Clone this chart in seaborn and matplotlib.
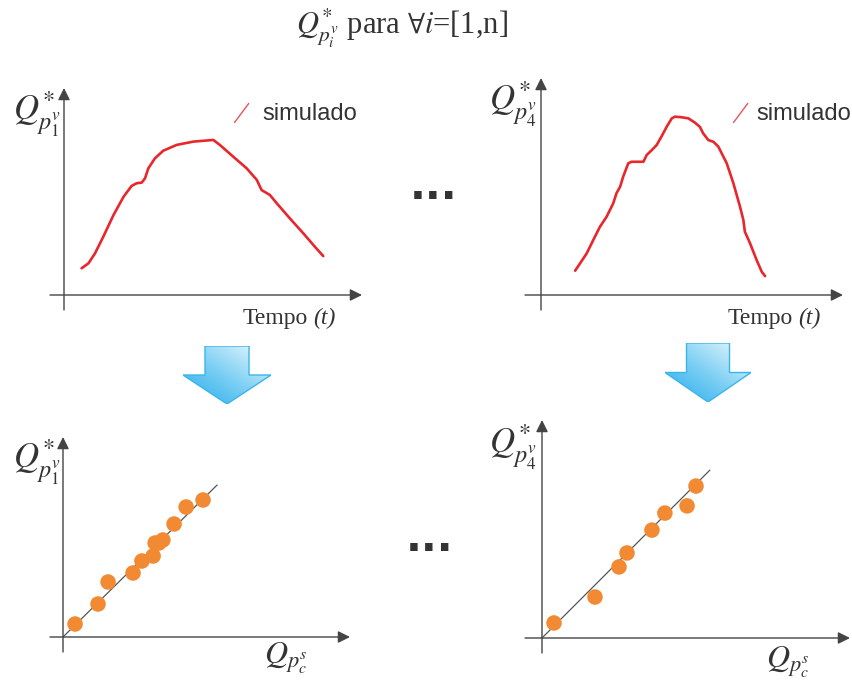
import numpy as np
import matplotlib.pyplot as plt
import seaborn as sns
from matplotlib.lines import Line2D
from matplotlib.patches import FancyArrow
from matplotlib.colors import LinearSegmentedColormap
from matplotlib.legend_handler import HandlerLine2D

sns.set_style('white')
plt.rcParams['font.family'] = ['Liberation Serif', 'DejaVu Serif']
plt.rcParams['mathtext.fontset'] = 'stix'

# --- data (arbitrary units, axes run 0..10) ---
# simulated hydrograph, point 1
t_p1 = [0.59, 0.82, 1.04, 1.32, 1.66, 2.00, 2.27, 2.44, 2.61, 2.72, 2.83, 3.05, 3.33, 3.78,
        4.34, 5.01, 5.23, 5.68, 6.13, 6.47, 6.63, 6.91, 7.14, 7.58, 8.03, 8.42, 8.70]
q_p1 = [1.29, 1.53, 2.01, 2.82, 3.86, 4.75, 5.27, 5.40, 5.43, 5.64, 6.12, 6.60, 6.97, 7.25,
        7.41, 7.49, 7.25, 6.68, 6.12, 5.56, 5.07, 4.83, 4.43, 3.70, 2.98, 2.33, 1.88]

# simulated hydrograph, point 4
t_p4 = [1.13, 1.29, 1.51, 1.73, 1.95, 2.17, 2.39, 2.50, 2.62, 2.72, 2.89, 3.00, 3.39, 3.50,
        3.67, 3.83, 4.00, 4.16, 4.33, 4.44, 4.66, 4.88, 5.10, 5.26, 5.37, 5.54, 5.71, 5.87,
        6.15, 6.37, 6.59, 6.70, 6.75, 6.92, 7.14, 7.31, 7.42]
q_p4 = [1.12, 1.45, 1.91, 2.53, 3.14, 3.60, 4.22, 4.69, 4.99, 5.45, 6.07, 6.14, 6.14, 6.45,
        6.68, 6.91, 7.33, 7.75, 8.14, 8.22, 8.19, 8.14, 7.94, 7.75, 7.45, 7.14, 7.06, 6.84,
        6.07, 5.15, 4.07, 3.46, 2.92, 2.39, 1.61, 1.07, 0.87]

# calculated vs simulated peaks
qc_p1 = [0.42, 1.22, 1.57, 2.44, 2.75, 3.14, 3.21, 3.34, 3.48, 3.87, 4.29, 4.88]
qs_p1 = [0.65, 1.65, 2.75, 3.20, 3.80, 4.05, 4.70, 4.70, 4.85, 5.65, 6.50, 6.85]
qc_p4 = [0.39, 1.72, 2.50, 2.76, 3.57, 3.99, 4.71, 5.00]
qs_p4 = [0.69, 1.88, 3.26, 3.90, 4.95, 5.73, 6.06, 6.97]

fit_p1_x = [0, 5.37]
fit_p1_y = [0, 7.60]
fit_p4_x = [0, 5.45]
fit_p4_y = [0, 7.70]

W, H = 853, 681
RED = '#E8262B'
ORANGE = '#F28A33'
AXC = '#444444'
TXT = '#333333'

fig = plt.figure(figsize=(W / 100, H / 100), dpi=100)


def fx(px):
    return px / W


def fy(py):
    return 1 - py / H


def make_panel(ox, oy, x_tip, y_tip, x_start, y_end):
    ax = fig.add_axes([fx(x_start), fy(y_end), (x_tip - x_start) / W, (y_end - y_tip) / H])
    xmin = -(ox - x_start) / ((x_tip - ox) / 10)
    ymin = -(y_end - oy) / ((oy - y_tip) / 10)
    ax.set_xlim(xmin, 10)
    ax.set_ylim(ymin, 10)
    for s in ax.spines.values():
        s.set_visible(False)
    ax.set_xticks([])
    ax.set_yticks([])
    ax.patch.set_alpha(0)
    arr = dict(arrowstyle='-|>,head_length=0.6,head_width=0.3', color=AXC, lw=1,
               mutation_scale=12, shrinkA=0, shrinkB=0)
    ax.annotate('', xy=(10, 0), xytext=(xmin, 0), arrowprops=arr, annotation_clip=False)
    ax.annotate('', xy=(0, 10), xytext=(0, ymin), arrowprops=arr, annotation_clip=False)
    return ax


class SlashHandler(HandlerLine2D):
    def create_artists(self, legend, orig_handle, xdescent, ydescent, width, height,
                       fontsize, trans):
        line = Line2D([-xdescent + width * 0.15, -xdescent + width * 0.75],
                      [-ydescent - height * 0.15, -ydescent + height * 1.0],
                      color='#F0505A', lw=1.0)
        line.set_transform(trans)
        return [line]


def add_legend(ax, x_px, y_px, pad):
    handles, labels = ax.get_legend_handles_labels()
    ax.legend(handles, labels, loc='center left', bbox_to_anchor=(fx(x_px), fy(y_px)),
              bbox_transform=fig.transFigure, frameon=False, borderpad=0, borderaxespad=0,
              handlelength=1.0, handletextpad=pad,
              prop={'family': 'Liberation Sans', 'size': 17}, labelcolor=TXT,
              handler_map={Line2D: SlashHandler()})


def y_label(text, x_px, y_px):
    fig.text(fx(x_px), fy(y_px), text, fontsize=25, ha='right', va='top', color=TXT)


def tempo_label(x_px, y_px):
    # "(t)" in italic, "Tempo" upright just left of it
    fig.text(fx(x_px), fy(y_px), '(t)', fontsize=17, fontstyle='italic', ha='right',
             va='center', color=TXT)
    fig.text(fx(x_px - 28), fy(y_px), 'Tempo', fontsize=17, ha='right', va='center',
             color=TXT)


def q_label(x_px, y_px):
    fig.text(fx(x_px), fy(y_px), r'$Q_{p^{s}_{c}}$', fontsize=23, ha='left', va='center',
             color=TXT)


# top-left: hydrograph p1
ax1 = make_panel(64, 295, 362, 88, 50, 310)
sns.lineplot(x=t_p1, y=q_p1, ax=ax1, color=RED, lw=1.9, sort=False, estimator=None,
             label='simulado')
add_legend(ax1, 231, 114, 0.32)
y_label(r'$Q^{*}_{p^{v}_{\mathit{1}}}$', 61, 90)
tempo_label(336, 318)

# top-right: hydrograph p4
ax2 = make_panel(541, 295, 843, 78, 525, 310)
sns.lineplot(x=t_p4, y=q_p4, ax=ax2, color=RED, lw=1.9, sort=False, estimator=None,
             label='simulado')
add_legend(ax2, 730, 114, 0.1)
y_label(r'$Q^{*}_{p^{v}_{\mathit{4}}}$', 537, 80)
tempo_label(821, 318)

# bottom-left: scatter p1
ax3 = make_panel(63, 637, 350, 437, 50, 652)
sns.lineplot(x=fit_p1_x, y=fit_p1_y, ax=ax3, color='#555555', lw=0.9)
sns.scatterplot(x=qc_p1, y=qs_p1, ax=ax3, color=ORANGE, s=125, edgecolor='none', zorder=3)
y_label(r'$Q^{*}_{p^{v}_{\mathit{1}}}$', 61, 438)
q_label(264, 658)

# bottom-right: scatter p4
ax4 = make_panel(542, 638, 850, 420, 525, 653)
sns.lineplot(x=fit_p4_x, y=fit_p4_y, ax=ax4, color='#555555', lw=0.9)
sns.scatterplot(x=qc_p4, y=qs_p4, ax=ax4, color=ORANGE, s=125, edgecolor='none', zorder=3)
y_label(r'$Q^{*}_{p^{v}_{\mathit{4}}}$', 537, 423)
q_label(766, 662)

# blue block arrows between rows
cmap = LinearSegmentedColormap.from_list('blu', ['#22ABEA', '#7FD0F4', '#EEF9FE'])
grad = np.add.outer(np.linspace(0, 1, 64), np.linspace(0, 1, 64)) / 2
for (x0, x1, y0, y1) in [(183, 271, 346, 404), (665, 751, 343, 402)]:
    axa = fig.add_axes([fx(x0), fy(y1), (x1 - x0) / W, (y1 - y0) / H])
    axa.set_xlim(0, 1)
    axa.set_ylim(0, 1)
    axa.axis('off')
    arrow = FancyArrow(0.5, 1.0, 0, -1.0, width=0.5, head_width=1.0, head_length=0.5,
                       length_includes_head=True, facecolor='none', edgecolor='#38B6EC',
                       lw=1.0)
    axa.add_patch(arrow)
    im = axa.imshow(grad, extent=(0, 1, 0, 1), origin='lower', cmap=cmap, aspect='auto',
                    zorder=0)
    im.set_clip_path(arrow)

# title and ellipses
fig.text(fx(402), fy(34), r'$Q^{*}_{p^{v}_{i}}$ para $\forall i$=[1,n]', ha='center',
         va='baseline', fontsize=22, color=TXT)
fig.text(fx(434), fy(187), '...', ha='center', va='center', fontsize=30,
         fontweight='bold', family='DejaVu Sans', color='#333333')
fig.text(fx(430), fy(539), '...', ha='center', va='center', fontsize=30,
         fontweight='bold', family='DejaVu Sans', color='#333333')

fig.savefig('out.png', dpi=100)
